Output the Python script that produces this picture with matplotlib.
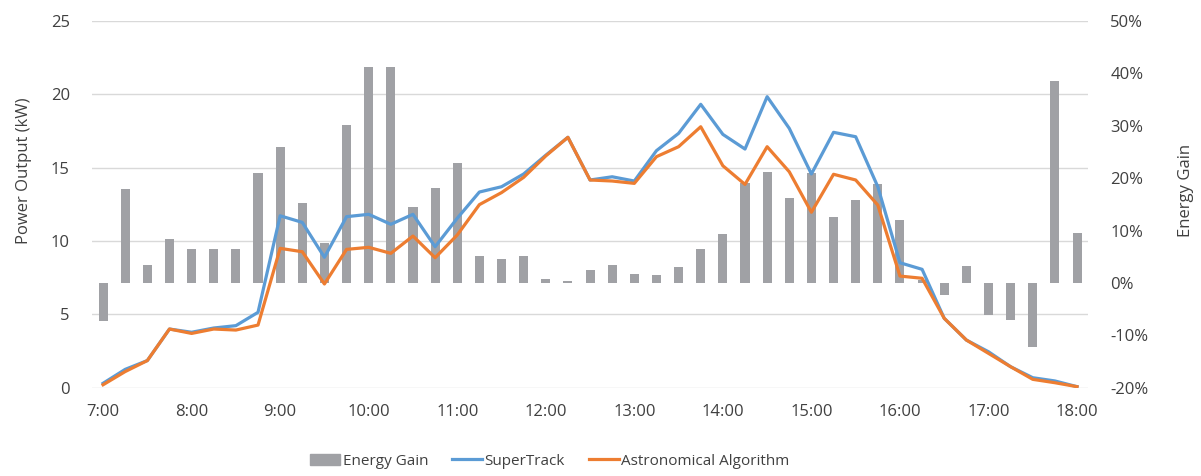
import numpy as np
import matplotlib.pyplot as plt
from matplotlib.transforms import blended_transform_factory
from matplotlib.patches import Patch
from matplotlib.lines import Line2D

# 15-minute steps from 7:00 to 18:00
times = [f"{7 + i // 4}:{(i % 4) * 15:02d}" for i in range(45)]

energy_gain = [-7.3, 18.0, 3.5, 8.3, 6.4, 6.4, 6.4, 20.9, 26.0, 15.2,
               7.7, 30.1, 41.3, 41.3, 14.5, 18.1, 22.9, 5.1, 4.5, 5.1,
               0.8, 0.3, 2.4, 3.5, 1.7, 1.6, 3.0, 6.4, 9.3, 19.0,
               21.1, 16.3, 21.0, 12.6, 15.9, 18.9, 12.1, 0.5, -2.3, 3.3,
               -6.2, -7.0, -12.3, 38.6, 9.5]

supertrack = [0.3, 1.25, 1.85, 4.0, 3.78, 4.07, 4.23, 5.14, 11.72, 11.27,
              8.89, 11.66, 11.82, 11.14, 11.82, 9.61, 11.55, 13.34, 13.7, 14.57,
              15.85, 17.07, 14.16, 14.38, 14.09, 16.16, 17.34, 19.32, 17.27, 16.27,
              19.84, 17.68, 14.57, 17.41, 17.11, 13.7, 8.52, 8.07, 4.73, 3.25,
              2.45, 1.43, 0.68, 0.46, 0.07]

astronomical = [0.2, 1.1, 1.85, 4.0, 3.7, 4.0, 3.93, 4.27, 9.5, 9.27,
                7.07, 9.43, 9.57, 9.16, 10.34, 8.86, 10.41, 12.48, 13.3, 14.34,
                15.8, 17.07, 14.16, 14.09, 13.93, 15.75, 16.43, 17.79, 15.13, 13.86,
                16.43, 14.72, 11.96, 14.55, 14.16, 12.45, 7.61, 7.46, 4.73, 3.25,
                2.34, 1.43, 0.57, 0.34, 0.07]

bar_color = '#a0a1a5'
blue = '#5b9bd5'
orange = '#ed7d31'
text_color = '#404040'

plt.rcParams['font.family'] = ['Open Sans', 'DejaVu Sans']

fig = plt.figure(figsize=(12.01, 4.76), dpi=100)
ax = fig.add_axes([0.0766, 0.1855, 0.8294, 0.7704])
ax2 = ax.twinx()
ax.set_zorder(ax2.get_zorder() + 1)
ax.patch.set_visible(False)

x = np.arange(len(times))

# gridlines at left-axis ticks, drawn behind the bars
trans = blended_transform_factory(ax2.transAxes, ax.transData)
for v in range(0, 30, 5):
    ax2.plot([0, 1], [v, v], transform=trans, color='#d9d9d9', lw=1.0, zorder=0)

ax2.bar(x, energy_gain, width=0.41, color=bar_color, zorder=2)
ax.plot(x, supertrack, color=blue, lw=2.3, zorder=3)
ax.plot(x, astronomical, color=orange, lw=2.3, zorder=4)

ax.set_xlim(-0.5, 44.5)
ax.set_ylim(0, 25)
ax2.set_ylim(-20, 50)
ax.set_yticks(range(0, 30, 5))
ax2.set_yticks(range(-20, 60, 10))
ax2.set_yticklabels([f"{v}%" for v in range(-20, 60, 10)])
ax.set_xticks(x[::4])
ax.set_xticklabels(times[::4])

for a in (ax, ax2):
    for s in a.spines.values():
        s.set_visible(False)
    a.tick_params(length=0, labelsize=12, colors=text_color)
ax.tick_params(axis='y', pad=16)
ax.tick_params(axis='x', pad=12)
ax2.tick_params(axis='y', pad=16)

ax.set_ylabel('Power Output (kW)', fontsize=12, color=text_color)
ax.yaxis.set_label_coords(-0.060, 0.591)
ax2.set_ylabel('Energy Gain', fontsize=12, color=text_color)
ax2.yaxis.set_label_coords(1.090, 0.539)

handles = [Patch(color=bar_color, label='Energy Gain'),
           Line2D([], [], color=blue, lw=2.3, label='SuperTrack'),
           Line2D([], [], color=orange, lw=2.3, label='Astronomical Algorithm')]
leg = fig.legend(handles=handles, loc='center', bbox_to_anchor=(0.458, 0.0315),
                 ncol=3, frameon=False, fontsize=11, handlelength=1.95,
                 handletextpad=0.15, columnspacing=1.6)
for t in leg.get_texts():
    t.set_color(text_color)

fig.savefig('out.png', dpi=100)
